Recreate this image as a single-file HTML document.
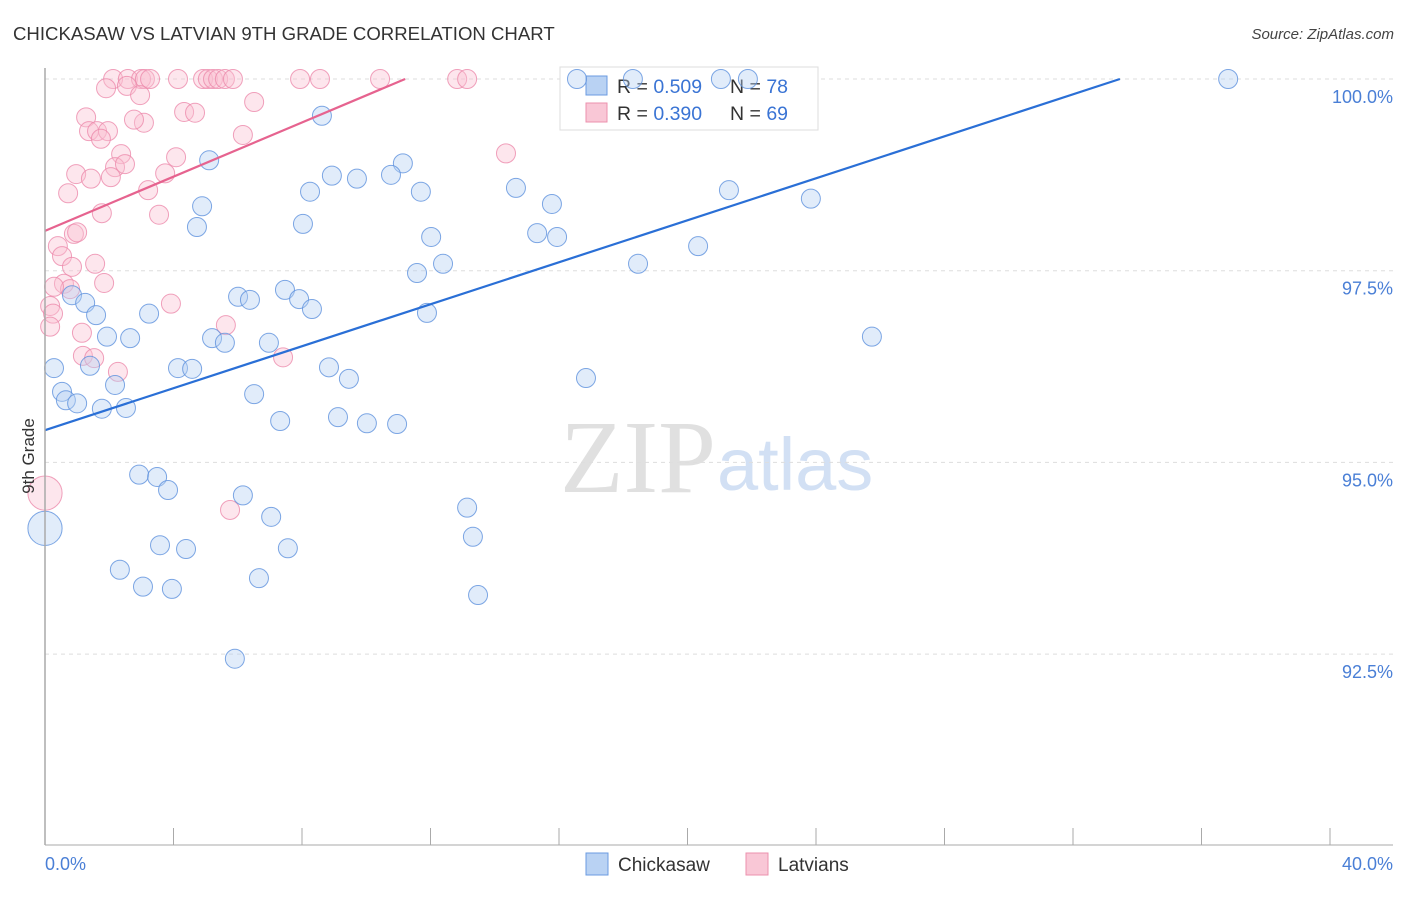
<!DOCTYPE html>
<html><head><meta charset="utf-8"><style>
body{margin:0;background:#fff;font-family:"Liberation Sans",sans-serif}
</style></head><body>
<svg id="c" width="1406" height="892" xmlns="http://www.w3.org/2000/svg" font-family="Liberation Sans, sans-serif">
<text x="13" y="40" font-size="18.6" fill="#333">CHICKASAW VS LATVIAN 9TH GRADE CORRELATION CHART</text>
<text x="1394" y="39" font-size="15" font-style="italic" fill="#444" text-anchor="end">Source: ZipAtlas.com</text>
<text x="716" y="492" font-size="104" text-anchor="end" fill="#e0e0e0" font-family="Liberation Serif, serif">ZIP</text>
<text x="717" y="490" font-size="74" fill="#d2e0f4">atlas</text>
<g id="grid"></g><g id="ticks"></g>
<g>
<rect x="560" y="67" width="258" height="63" fill="#fff" stroke="#ddd"/>
<rect x="586" y="76" width="21" height="19" fill="#b9d2f3" stroke="#6b9be0"/>
<rect x="586" y="103" width="21" height="19" fill="#f9c7d6" stroke="#ec91ae"/>
<text x="617" y="93" font-size="19.5" fill="#333">R = <tspan fill="#3a74d4">0.509</tspan></text>
<text x="730" y="93" font-size="19.5" fill="#333">N = <tspan fill="#3a74d4">78</tspan></text>
<text x="617" y="120" font-size="19.5" fill="#333">R = <tspan fill="#3a74d4">0.390</tspan></text>
<text x="730" y="120" font-size="19.5" fill="#333">N = <tspan fill="#3a74d4">69</tspan></text>
</g>
<g id="pts"></g><g id="trend"></g>
<text transform="translate(34,456) rotate(-90)" font-size="17" fill="#333" text-anchor="middle">9th Grade</text>
<line x1="45" y1="68" x2="45" y2="845" stroke="#aaa" stroke-width="1.5"/>
<line x1="45" y1="845" x2="1393" y2="845" stroke="#aaa" stroke-width="1"/>
<text x="45" y="870" font-size="18" fill="#4a7fd6">0.0%</text>
<text x="1393" y="870" font-size="18" fill="#4a7fd6" text-anchor="end">40.0%</text>
<g>
<rect x="586" y="853" width="22" height="22" fill="#b9d2f3" stroke="#6b9be0"/>
<text x="618" y="871" font-size="19" fill="#333">Chickasaw</text>
<rect x="746" y="853" width="22" height="22" fill="#f9c7d6" stroke="#ec91ae"/>
<text x="778" y="871" font-size="19" fill="#333">Latvians</text>
</g>
</svg>
<script>
const yTicks=[100,97.5,95,92.5];
const yTickLabels=["100.0%","97.5%","95.0%","92.5%"];
const xTicks=[0,4,8,12,16,20,24,28,32,36,40];
const blueX=[16.56,18.30,21.04,21.88,36.83,8.62,5.11,11.14,14.66,21.29,23.84,8.25,8.93,9.71,10.77,11.70,4.89,15.78,4.73,8.03,15.32,15.94,12.02,20.33,12.39,11.58,18.46,7.47,6.01,6.38,7.91,8.31,0.84,1.25,3.24,1.59,11.89,1.93,2.65,5.20,5.60,6.97,25.74,0.28,1.40,4.14,4.58,8.84,9.46,16.84,2.18,0.53,0.65,1.00,6.51,1.77,2.52,7.32,9.12,10.02,10.96,2.93,3.49,3.83,6.16,13.14,7.04,13.32,3.58,4.39,7.56,2.33,6.66,3.05,3.95,13.48,5.91,0];
const blueY=[100,100,100,100,100,99.52,98.94,98.90,98.58,98.55,98.44,98.53,98.74,98.70,98.75,98.53,98.34,98.37,98.07,98.11,97.99,97.94,97.94,97.82,97.59,97.47,97.59,97.25,97.16,97.12,97.13,97.00,97.18,97.08,96.94,96.92,96.95,96.64,96.62,96.62,96.56,96.56,96.64,96.23,96.26,96.23,96.22,96.24,96.09,96.10,96.01,95.92,95.81,95.77,95.89,95.70,95.71,95.54,95.59,95.51,95.50,94.84,94.81,94.64,94.57,94.41,94.29,94.03,93.92,93.87,93.88,93.60,93.49,93.38,93.35,93.27,92.44,94.14];
const blueSize=blueX.map((v,i)=>i===blueX.length-1?1.8:1);
const pinkX=[2.12,2.58,2.99,3.11,3.27,4.14,4.92,5.07,5.23,5.39,5.60,5.85,7.94,8.56,10.43,12.83,13.14,1.90,2.55,2.96,6.51,1.28,4.33,4.67,3.08,2.77,1.37,1.62,1.96,1.74,6.16,4.08,2.37,2.18,2.49,14.35,0.97,1.43,2.05,3.74,3.21,0.72,1.77,3.55,0.90,1.00,0.40,0.53,0.84,1.56,1.84,0.59,0.78,0.28,3.92,0.16,0.25,1.15,5.63,0.16,1.18,1.53,7.41,2.27,5.76,0];
const pinkY=[100,100,100,100,100,100,100,100,100,100,100,100,100,100,100,100,100,99.88,99.91,99.79,99.70,99.50,99.57,99.56,99.43,99.47,99.32,99.32,99.32,99.22,99.27,98.98,99.02,98.85,98.89,99.03,98.76,98.70,98.72,98.77,98.55,98.51,98.25,98.23,97.98,98.00,97.82,97.69,97.55,97.59,97.34,97.33,97.26,97.29,97.07,97.04,96.94,96.69,96.79,96.77,96.39,96.36,96.37,96.18,94.38,94.60];
const pinkSize=pinkX.map((v,i)=>i===pinkX.length-1?1.8:1);
const blueTrend=[[0,95.42],[33.46,100]];
const pinkTrend=[[0,98.02],[11.21,100]];
const NS="http://www.w3.org/2000/svg";
const sx=v=>45+v*(1285/40);
const sy=v=>79+(100-v)*(191.7/2.5);
function mk(t,a,p){const e=document.createElementNS(NS,t);for(const k in a)e.setAttribute(k,a[k]);document.getElementById(p).appendChild(e);return e;}
yTicks.forEach((t,i)=>{
 const l=mk('line',{x1:45,x2:1393,y1:sy(t),y2:sy(t),stroke:'#ddd','stroke-dasharray':'4,4'},'grid');
 
 
 const tx=mk('text',{x:1393,y:sy(t)+24,'font-size':18,fill:'#4a7fd6','text-anchor':'end'},'grid');
 tx.textContent=yTickLabels[i];
 
 
});
xTicks.forEach(t=>{
 const l=mk('line',{x1:sx(t),x2:sx(t),y1:828,y2:845,stroke:'#aaa'},'ticks');
 
 
});
function pts(X,Y,S,fill,stroke,name){
 X.forEach((x,i)=>{
  const c=mk('circle',{cx:sx(x),cy:sy(Y[i]),r:9.5*S[i],fill:fill,'fill-opacity':0.4,stroke:stroke,'stroke-opacity':0.8,'stroke-width':1},'pts');
  
  
 });
}
pts(pinkX,pinkY,pinkSize,'#f9c0d2','#ec8aab','latvians-point');
pts(blueX,blueY,blueSize,'#b4cff2','#5e91dd','chickasaw-point');
const bl=mk('line',{x1:sx(blueTrend[0][0]),y1:sy(blueTrend[0][1]),x2:sx(blueTrend[1][0]),y2:sy(blueTrend[1][1]),stroke:'#2a6fd6','stroke-width':2.2},'trend');


const pl=mk('line',{x1:sx(pinkTrend[0][0]),y1:sy(pinkTrend[0][1]),x2:sx(pinkTrend[1][0]),y2:sy(pinkTrend[1][1]),stroke:'#e6638f','stroke-width':2.2},'trend');


</script>
</body></html>
